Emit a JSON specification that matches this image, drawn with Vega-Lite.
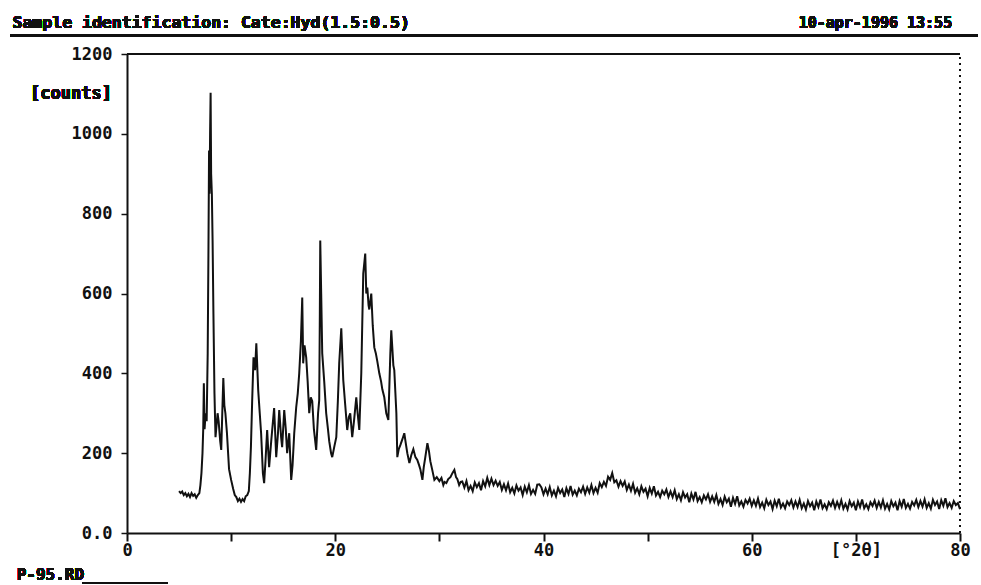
{
  "$schema": "https://vega.github.io/schema/vega-lite/v6.json",
  "autosize": "none",
  "width": 833,
  "height": 479,
  "padding": {"left": 127, "top": 54, "right": 21, "bottom": 52},
  "background": "white",
  "config": {
    "view": {"stroke": null},
    "font": "DejaVu Sans Mono",
    "axis": {"labelOverlap": false, "labelFlush": false, "labelBound": false}
  },
  "data": {"values": [
    {"t":5.0,"c":105},{"t":5.15,"c":100},{"t":5.3,"c":104},{"t":5.45,"c":95},{"t":5.6,"c":100},{"t":5.75,"c":92},{"t":5.9,"c":98},{"t":6.05,"c":90},{"t":6.2,"c":100},{"t":6.35,"c":93},{"t":6.5,"c":97},{"t":6.65,"c":88},{"t":6.8,"c":95},{"t":6.95,"c":100},
    {"t":7.05,"c":120},{"t":7.15,"c":150},{"t":7.25,"c":200},{"t":7.32,"c":260},{"t":7.38,"c":375},{"t":7.45,"c":260},{"t":7.55,"c":300},{"t":7.65,"c":280},{"t":7.75,"c":450},{"t":7.82,"c":700},{"t":7.88,"c":958},{"t":7.93,"c":850},{"t":7.98,"c":1000},{"t":8.03,"c":1103},{"t":8.08,"c":900},{"t":8.15,"c":850},{"t":8.22,"c":733},{"t":8.3,"c":550},{"t":8.4,"c":350},{"t":8.5,"c":240},{"t":8.6,"c":270},{"t":8.7,"c":300},{"t":8.8,"c":280},{"t":8.95,"c":230},{"t":9.05,"c":208},{"t":9.15,"c":300},{"t":9.25,"c":388},{"t":9.35,"c":320},{"t":9.45,"c":300},{"t":9.6,"c":250},{"t":9.8,"c":160},{"t":10.0,"c":133},{"t":10.2,"c":110},{"t":10.35,"c":95},{"t":10.5,"c":90},{"t":10.65,"c":80},{"t":10.8,"c":86},{"t":10.95,"c":78},{"t":11.1,"c":85},{"t":11.25,"c":80},{"t":11.4,"c":92},{"t":11.55,"c":95},{"t":11.7,"c":105},{"t":11.8,"c":150},{"t":11.9,"c":215},{"t":12.02,"c":330},{"t":12.15,"c":440},{"t":12.3,"c":408},{"t":12.42,"c":475},{"t":12.6,"c":358},{"t":12.75,"c":300},{"t":12.88,"c":250},{"t":13.05,"c":150},{"t":13.17,"c":125},{"t":13.3,"c":180},{"t":13.46,"c":258},{"t":13.65,"c":165},{"t":13.85,"c":230},{"t":14.13,"c":313},{"t":14.33,"c":190},{"t":14.5,"c":250},{"t":14.62,"c":308},{"t":14.8,"c":240},{"t":14.9,"c":215},{"t":15.1,"c":308},{"t":15.25,"c":260},{"t":15.38,"c":200},{"t":15.58,"c":250},{"t":15.77,"c":133},{"t":15.9,"c":170},{"t":16.06,"c":250},{"t":16.25,"c":315},{"t":16.4,"c":350},{"t":16.54,"c":400},{"t":16.7,"c":480},{"t":16.83,"c":590},{"t":16.92,"c":425},{"t":17.05,"c":470},{"t":17.21,"c":440},{"t":17.35,"c":380},{"t":17.5,"c":300},{"t":17.65,"c":340},{"t":17.79,"c":330},{"t":17.95,"c":260},{"t":18.17,"c":208},{"t":18.35,"c":300},{"t":18.46,"c":333},{"t":18.52,"c":550},{"t":18.56,"c":733},{"t":18.65,"c":600},{"t":18.75,"c":450},{"t":18.94,"c":380},{"t":19.13,"c":300},{"t":19.3,"c":260},{"t":19.42,"c":230},{"t":19.6,"c":200},{"t":19.71,"c":190},{"t":19.9,"c":215},{"t":20.1,"c":240},{"t":20.25,"c":330},{"t":20.38,"c":425},{"t":20.58,"c":513},{"t":20.77,"c":383},{"t":20.96,"c":320},{"t":21.15,"c":258},{"t":21.3,"c":290},{"t":21.44,"c":300},{"t":21.63,"c":240},{"t":21.8,"c":280},{"t":22.02,"c":340},{"t":22.15,"c":300},{"t":22.31,"c":258},{"t":22.5,"c":400},{"t":22.69,"c":650},{"t":22.88,"c":700},{"t":22.98,"c":600},{"t":23.08,"c":615},{"t":23.2,"c":570},{"t":23.27,"c":560},{"t":23.46,"c":600},{"t":23.6,"c":520},{"t":23.75,"c":465},{"t":23.9,"c":450},{"t":24.04,"c":430},{"t":24.23,"c":400},{"t":24.4,"c":380},{"t":24.52,"c":360},{"t":24.71,"c":340},{"t":24.9,"c":300},{"t":25.1,"c":283},{"t":25.29,"c":450},{"t":25.38,"c":508},{"t":25.58,"c":420},{"t":25.67,"c":408},{"t":25.87,"c":300},{"t":25.96,"c":190},{"t":26.1,"c":210},{"t":26.25,"c":220},{"t":26.45,"c":235},{"t":26.63,"c":250},{"t":26.8,"c":220},{"t":26.92,"c":200},{"t":27.12,"c":175},{"t":27.3,"c":195},{"t":27.5,"c":210},{"t":27.7,"c":190},{"t":27.88,"c":183},{"t":28.05,"c":170},{"t":28.17,"c":160},{"t":28.37,"c":133},{"t":28.5,"c":165},{"t":28.65,"c":190},{"t":28.85,"c":225},{"t":29.0,"c":205},{"t":29.13,"c":180},{"t":29.3,"c":160},{"t":29.52,"c":133},{"t":29.75,"c":140},{"t":30.0,"c":130},{"t":30.2,"c":138},{"t":30.38,"c":120},{"t":30.5,"c":128},{"t":30.67,"c":125},{"t":30.85,"c":135},{"t":31.06,"c":140},{"t":31.25,"c":150},{"t":31.44,"c":158},{"t":31.6,"c":140},{"t":31.73,"c":135},{"t":31.9,"c":120},{"t":32.05,"c":128},
    {"t":32.2,"c":129},{"t":32.4,"c":114},{"t":32.6,"c":130},{"t":32.8,"c":107},{"t":33.0,"c":118},{"t":33.2,"c":105},{"t":33.4,"c":127},{"t":33.6,"c":115},{"t":33.8,"c":125},{"t":34.0,"c":107},{"t":34.2,"c":130},{"t":34.4,"c":117},{"t":34.6,"c":138},{"t":34.8,"c":120},{"t":35.0,"c":136},{"t":35.2,"c":120},{"t":35.4,"c":131},{"t":35.6,"c":118},{"t":35.8,"c":128},{"t":36.0,"c":108},{"t":36.2,"c":122},{"t":36.4,"c":107},{"t":36.6,"c":124},{"t":36.8,"c":102},{"t":37.0,"c":113},{"t":37.2,"c":99},{"t":37.4,"c":119},{"t":37.6,"c":106},{"t":37.8,"c":114},{"t":38.0,"c":95},{"t":38.2,"c":116},{"t":38.4,"c":102},{"t":38.6,"c":120},{"t":38.8,"c":98},{"t":39.0,"c":108},{"t":39.2,"c":98},{"t":39.4,"c":121},{"t":39.6,"c":122},{"t":39.8,"c":114},{"t":40.0,"c":97},{"t":40.2,"c":111},{"t":40.4,"c":97},{"t":40.6,"c":115},{"t":40.8,"c":94},{"t":41.0,"c":106},{"t":41.2,"c":92},{"t":41.4,"c":113},{"t":41.6,"c":100},{"t":41.8,"c":109},{"t":42.0,"c":90},{"t":42.2,"c":112},{"t":42.4,"c":98},{"t":42.6,"c":118},{"t":42.8,"c":96},{"t":43.0,"c":106},{"t":43.2,"c":94},{"t":43.4,"c":111},{"t":43.6,"c":102},{"t":43.8,"c":116},{"t":44.0,"c":98},{"t":44.2,"c":114},{"t":44.4,"c":101},{"t":44.6,"c":120},{"t":44.8,"c":100},{"t":45.0,"c":113},{"t":45.2,"c":101},{"t":45.4,"c":125},{"t":45.6,"c":115},{"t":45.8,"c":128},{"t":46.0,"c":118},{"t":46.2,"c":141},{"t":46.4,"c":133},{"t":46.6,"c":150},{"t":46.8,"c":127},{"t":47.0,"c":132},{"t":47.2,"c":116},{"t":47.4,"c":130},{"t":47.6,"c":118},{"t":47.8,"c":129},{"t":48.0,"c":108},{"t":48.2,"c":121},{"t":48.4,"c":106},{"t":48.6,"c":123},{"t":48.8,"c":101},{"t":49.0,"c":112},{"t":49.2,"c":97},{"t":49.4,"c":117},{"t":49.6,"c":103},{"t":49.8,"c":111},{"t":50.0,"c":92},{"t":50.2,"c":113},{"t":50.4,"c":99},{"t":50.6,"c":117},{"t":50.8,"c":94},{"t":51.0,"c":103},{"t":51.2,"c":90},{"t":51.4,"c":106},{"t":51.6,"c":97},{"t":51.8,"c":109},{"t":52.0,"c":90},{"t":52.2,"c":104},{"t":52.4,"c":90},{"t":52.6,"c":107},{"t":52.8,"c":85},{"t":53.0,"c":97},{"t":53.2,"c":82},{"t":53.4,"c":102},{"t":53.6,"c":89},{"t":53.8,"c":97},{"t":54.0,"c":77},{"t":54.2,"c":99},{"t":54.4,"c":84},{"t":54.6,"c":103},{"t":54.8,"c":80},{"t":55.0,"c":90},{"t":55.2,"c":77},{"t":55.4,"c":94},{"t":55.6,"c":84},{"t":55.8,"c":97},{"t":56.0,"c":78},{"t":56.2,"c":92},{"t":56.4,"c":78},{"t":56.6,"c":95},{"t":56.8,"c":73},{"t":57.0,"c":85},{"t":57.2,"c":70},{"t":57.4,"c":91},{"t":57.6,"c":77},{"t":57.8,"c":86},{"t":58.0,"c":66},{"t":58.2,"c":88},{"t":58.4,"c":73},{"t":58.6,"c":92},{"t":58.8,"c":69},{"t":59.0,"c":79},{"t":59.2,"c":66},{"t":59.4,"c":83},{"t":59.6,"c":74},{"t":59.8,"c":86},{"t":60.0,"c":68},
    {"t":60.2,"c":82},{"t":60.4,"c":68},{"t":60.6,"c":86},{"t":60.8,"c":65},{"t":61.0,"c":76},{"t":61.2,"c":62},{"t":61.4,"c":83},{"t":61.6,"c":70},{"t":61.8,"c":79},{"t":62.0,"c":60},{"t":62.2,"c":81},{"t":62.4,"c":67},{"t":62.6,"c":86},{"t":62.8,"c":64},{"t":63.0,"c":74},{"t":63.2,"c":62},{"t":63.4,"c":79},{"t":63.6,"c":70},{"t":63.8,"c":82},{"t":64.0,"c":64},{"t":64.2,"c":79},{"t":64.4,"c":65},{"t":64.6,"c":83},{"t":64.8,"c":62},{"t":65.0,"c":74},{"t":65.2,"c":59},{"t":65.4,"c":80},{"t":65.6,"c":67},{"t":65.8,"c":76},{"t":66.0,"c":57},{"t":66.2,"c":79},{"t":66.4,"c":65},{"t":66.6,"c":84},{"t":66.8,"c":62},{"t":67.0,"c":72},{"t":67.2,"c":60},{"t":67.4,"c":77},{"t":67.6,"c":68},{"t":67.8,"c":81},{"t":68.0,"c":63},{"t":68.2,"c":78},{"t":68.4,"c":64},{"t":68.6,"c":82},{"t":68.8,"c":61},{"t":69.0,"c":73},{"t":69.2,"c":59},{"t":69.4,"c":80},{"t":69.6,"c":67},{"t":69.8,"c":76},{"t":70.0,"c":57},{"t":70.2,"c":79},{"t":70.4,"c":65},{"t":70.6,"c":84},{"t":70.8,"c":62},{"t":71.0,"c":72},{"t":71.2,"c":60},{"t":71.4,"c":77},{"t":71.6,"c":68},{"t":71.8,"c":81},{"t":72.0,"c":63},{"t":72.2,"c":78},{"t":72.4,"c":64},{"t":72.6,"c":82},{"t":72.8,"c":61},{"t":73.0,"c":73},{"t":73.2,"c":59},{"t":73.4,"c":80},{"t":73.6,"c":67},{"t":73.8,"c":76},{"t":74.0,"c":57},{"t":74.2,"c":80},{"t":74.4,"c":66},{"t":74.6,"c":85},{"t":74.8,"c":63},{"t":75.0,"c":73},{"t":75.2,"c":61},{"t":75.4,"c":78},{"t":75.6,"c":69},{"t":75.8,"c":83},{"t":76.0,"c":65},{"t":76.2,"c":80},{"t":76.4,"c":66},{"t":76.6,"c":84},{"t":76.8,"c":63},{"t":77.0,"c":75},{"t":77.2,"c":61},{"t":77.4,"c":83},{"t":77.6,"c":70},{"t":77.8,"c":79},{"t":78.0,"c":60},{"t":78.2,"c":82},{"t":78.4,"c":68},{"t":78.6,"c":87},{"t":78.8,"c":65},{"t":79.0,"c":75},{"t":79.2,"c":63},{"t":79.4,"c":80},{"t":79.6,"c":70},{"t":79.8,"c":75},{"t":80.0,"c":60}
  ]},
  "layer": [
    {
      "mark": {"type": "line", "stroke": "#111111", "strokeWidth": 2, "strokeJoin": "miter"},
      "encoding": {
        "x": {"field": "t", "type": "quantitative",
          "scale": {"domain": [0, 80], "nice": false, "zero": false},
          "axis": {
            "values": [0, 10, 20, 30, 40, 50, 60, 70, 80],
            "format": "d",
            "labelExpr": "datum.value == 70 ? '[°2θ]' : (datum.value % 20 == 0 ? datum.label : '')",
            "title": null, "grid": false,
            "domainColor": "#111111", "domainWidth": 2,
            "tickColor": "#111111", "tickWidth": 2, "tickSize": 8,
            "labelFont": "DejaVu Sans Mono", "labelFontWeight": "bold", "labelFontSize": 17,
            "labelColor": "#111111", "labelPadding": 1,
            "labelOverlap": false, "labelFlush": false
          }
        },
        "y": {"field": "c", "type": "quantitative",
          "scale": {"domain": [0, 1200], "nice": false, "zero": true},
          "axis": {
            "values": [0, 100, 200, 300, 400, 500, 600, 700, 800, 900, 1000, 1100, 1200],
            "format": "d",
            "labelExpr": "datum.value == 0 ? '0.0' : (datum.value % 200 == 0 ? datum.label : '')",
            "title": null, "grid": false,
            "domainColor": "#111111", "domainWidth": 2,
            "tickColor": "#111111", "tickWidth": 1.5, "tickSize": 6,
            "labelFont": "DejaVu Sans Mono", "labelFontWeight": "bold", "labelFontSize": 17,
            "labelColor": "#111111", "labelPadding": 9,
            "labelOverlap": false, "labelFlush": false
          }
        }
      }
    },
    {
      "mark": {"type": "text", "align": "right", "baseline": "middle", "font": "DejaVu Sans Mono", "fontSize": 17, "fontWeight": "bold", "color": "#111111"},
      "encoding": {
        "x": {"datum": -1.44, "type": "quantitative"},
        "y": {"datum": 1100, "type": "quantitative"},
        "text": {"value": "[counts]"}
      }
    },
    {
      "mark": {"type": "rule", "stroke": "#111111", "strokeWidth": 2},
      "encoding": {
        "x": {"datum": 0, "type": "quantitative"},
        "x2": {"datum": 80},
        "y": {"datum": 1200, "type": "quantitative"}
      }
    },
    {
      "mark": {"type": "rule", "stroke": "#111111", "strokeWidth": 1.5, "strokeDash": [2, 4]},
      "encoding": {
        "x": {"datum": 80, "type": "quantitative"},
        "y": {"datum": 0, "type": "quantitative"},
        "y2": {"datum": 1200}
      }
    },
    {
      "mark": {"type": "rule", "stroke": "#111111", "strokeWidth": 2},
      "encoding": {
        "x": {"datum": -11.2, "type": "quantitative"},
        "x2": {"datum": 81.7},
        "y": {"datum": 1247, "type": "quantitative"}
      }
    },
    {
      "mark": {"type": "text", "align": "left", "baseline": "alphabetic", "font": "DejaVu Sans Mono", "fontSize": 16.5, "fontWeight": "bold", "color": "#111111"},
      "encoding": {
        "x": {"datum": -11.0, "type": "quantitative"},
        "y": {"datum": 1265, "type": "quantitative"},
        "text": {"value": "Sample identification: Cate:Hyd(1.5:0.5)"}
      }
    },
    {
      "mark": {"type": "text", "align": "right", "baseline": "alphabetic", "font": "DejaVu Sans Mono", "fontSize": 15, "fontWeight": "bold", "color": "#111111"},
      "encoding": {
        "x": {"datum": 79.25, "type": "quantitative"},
        "y": {"datum": 1265, "type": "quantitative"},
        "text": {"value": "10-apr-1996 13:55"}
      }
    },
    {
      "mark": {"type": "text", "align": "left", "baseline": "alphabetic", "font": "DejaVu Sans Mono", "fontSize": 16, "fontWeight": "bold", "color": "#111111"},
      "encoding": {
        "x": {"datum": -10.6, "type": "quantitative"},
        "y": {"datum": -118, "type": "quantitative"},
        "text": {"value": "P-95.RD"}
      }
    },
    {
      "mark": {"type": "rule", "stroke": "#111111", "strokeWidth": 1.5},
      "encoding": {
        "x": {"datum": -4.3, "type": "quantitative"},
        "x2": {"datum": 3.9},
        "y": {"datum": -126, "type": "quantitative"}
      }
    }
  ]
}
